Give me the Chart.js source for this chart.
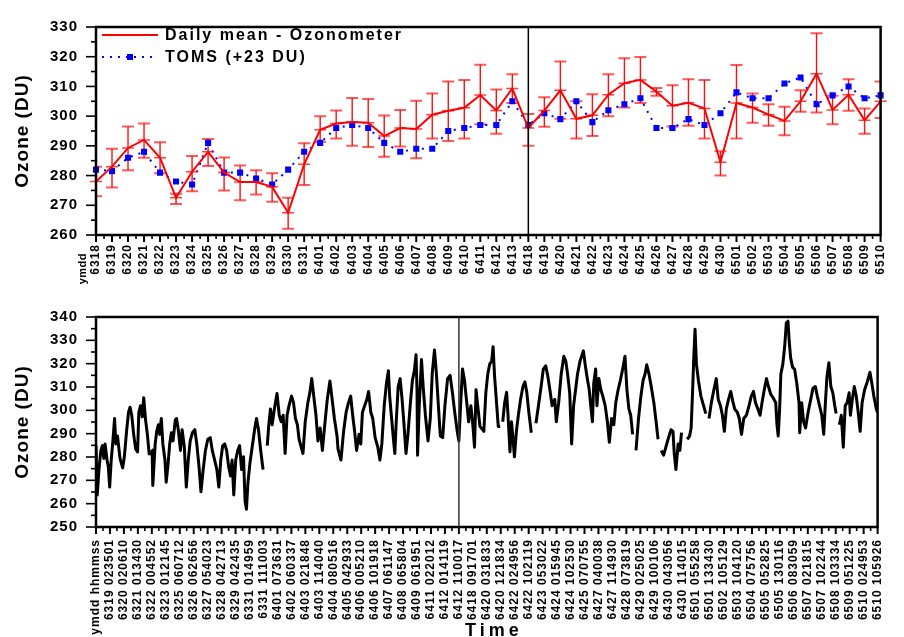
<!DOCTYPE html>
<html>
<head>
<meta charset="utf-8">
<title>Ozone</title>
<script src="https://cdn.jsdelivr.net/npm/chart.js@4.4.1/dist/chart.umd.min.js"></script>
<style>
	html, body { margin: 0; padding: 0; background: #fff; }
	canvas { position: absolute; left: 0; }
	#daily { top: 0; }
	#hourly { top: 290px; }
</style>
</head>
<body>
<canvas id="daily" width="904" height="290"></canvas>
<canvas id="hourly" width="904" height="347"></canvas>
<script>
(function (Chart) {
	'use strict';

	// daily means, top panel
	var days = ['6318', '6319', '6320', '6321', '6322', '6323', '6324', '6325', '6326', '6327', '6328', '6329', '6330', '6331',
		'6401', '6402', '6403', '6404', '6405', '6406', '6407', '6408', '6409', '6410', '6411', '6412', '6413',
		'6418', '6419', '6420', '6421', '6422', '6423', '6424', '6425', '6426', '6427', '6428', '6429', '6430',
		'6501', '6502', '6503', '6504', '6505', '6506', '6507', '6508', '6509', '6510'];
	var dailyMean = [278, 283, 289.3, 292, 286, 272.5, 281.3, 288, 281, 277.8, 277.8, 276.2, 267.5, 283.8,
		295.4, 297.5, 298, 297.8, 293.3, 296, 295.7, 300.5, 301.8, 302.8, 307.1, 301.9, 309.3,
		296, 301.9, 308.7, 299.1, 300.3, 307.2, 311.1, 312.2, 308.2, 303.5, 304.5, 302.6, 284.5,
		304.4, 302.9, 300.5, 298.4, 305, 314.3, 302.1, 307.2, 298.6, 305];
	var dailyHigh = [283, 289, 296.5, 297.5, 291.2, 273.9, 286.6, 292.3, 286.1, 283.4, 281.8, 280.8, 272.5, 290.9,
		300, 301.9, 306.1, 305.8, 300.2, 302.1, 305.2, 307.6, 311.7, 312.2, 317.3, 309, 314.1,
		300.7, 306.4, 318.4, 305, 307.4, 314.1, 319.5, 319.9, 309.5, 310.4, 312.4, 312.2, 288.2,
		317.2, 307.6, 304, 303.2, 308.7, 327.9, 306.9, 312.4, 302.6, 311.7];
	var dailyLow = [273, 276, 281.8, 286, 280.8, 270.4, 274.7, 283.2, 275, 271.7, 273.6, 271.2, 262.1, 276.8,
		291.4, 292.5, 290, 289.6, 286.3, 289.8, 285.8, 292.5, 291.6, 292.5, 297.3, 294.1, 304.4,
		290, 296.4, 299.1, 292.5, 293.3, 300, 302.9, 304.4, 306.9, 296.5, 296.8, 292.5, 280,
		292.5, 297.8, 296.8, 293.6, 301.5, 301.2, 297.3, 301.8, 294.1, 299.4];
	var toms = [282, 281.5, 286, 288, 281, 278, 277, 291, 281, 281, 279, 277, 282, 288,
		291, 296, 297, 296, 291, 288, 289, 289, 295, 296, 297, 297, 305,
		297, 301, 299, 305, 298, 302, 304, 306, 296, 296, 299, 297, 301,
		308, 306, 306, 311, 313, 304, 307, 310, 306, 307];
	var splitDay = '6418';

	// individual measurements, bottom panel
	var timeLabels = ['ymdd hhmmss', '6319 023501', '6320 020610', '6321 013430', '6322 004552', '6323 012145',
		'6325 060712', '6326 062656', '6327 054023', '6328 042713', '6329 042435', '6331 014959', '6331 111003',
		'6401 073631', '6402 060337', '6403 021848', '6403 114040', '6404 080516', '6405 042933', '6406 005210',
		'6406 101918', '6407 061147', '6408 065804', '6409 061951', '6411 022012', '6412 014119', '6412 110017',
		'6418 091701', '6420 031833', '6420 121834', '6422 024956', '6422 102119', '6423 053022', '6424 015945',
		'6424 102530', '6425 070755', '6427 040038', '6427 114930', '6428 073819', '6429 025025', '6429 100106',
		'6430 043056', '6430 114015', '6501 055258', '6501 133430', '6502 105129', '6503 104120', '6504 075756',
		'6505 052825', '6505 130116', '6506 083059', '6507 021815', '6507 102244', '6508 103334', '6509 051225',
		'6510 024953', '6510 105926'];
	// [position on the time axis, ozone DU]; null marks a break in the record
	var hourlyOzone = [
		[0, 285], [0.09, 263.7], [0.21, 274.6], [0.35, 282.8], [0.46, 284.9], [0.56, 279.4], [0.65, 285.6], [0.79, 278.7],
		[0.88, 276], [0.98, 267.1], [1.09, 278.7], [1.21, 286.9], [1.33, 296.5], [1.42, 285.6], [1.54, 289], [1.72, 279.4],
		[1.91, 275.3], [2.03, 280.1], [2.19, 291], [2.33, 299.2], [2.44, 301.3], [2.56, 297.9], [2.7, 289.7], [2.84, 283.5],
		[2.98, 282.2], [3.07, 299.2], [3.19, 302], [3.31, 297.2], [3.42, 305.4], [3.54, 296.5], [3.68, 289.7], [3.82, 280.8],
		[3.92, null],
		[4.02, 283], [4.07, 267.8], [4.24, 285.6], [4.35, 291], [4.47, 293.8], [4.56, 289.7], [4.68, 296.5], [4.79, 285.6],
		[4.94, 278.7], [5.03, 269.2], [5.17, 277.4], [5.28, 285.6], [5.4, 290.4], [5.52, 286.9], [5.68, 295.8], [5.77, 296.5],
		[5.91, 291], [6.05, 282.8], [6.17, 291.7], [6.33, 284.2], [6.47, 267.1], [6.61, 278.7], [6.75, 286.9], [6.91, 290.4],
		[7.08, 291.7], [7.22, 285.6], [7.38, 276], [7.52, 265.1], [7.68, 274.6], [7.84, 282.8], [8.01, 287.6], [8.19, 288.3],
		[8.33, 282.8], [8.5, 278.7], [8.66, 274.6], [8.8, 267.1], [8.94, 278.7], [9.08, 284.9], [9.22, 285.6], [9.36, 282.8],
		[9.5, 276], [9.64, 271.9], [9.75, 278.7], [9.87, 263.7], [10.01, 278.7], [10.15, 282.8], [10.29, 284.9], [10.43, 274.6],
		[10.57, 280.1], [10.68, 261], [10.78, 257.6], [10.89, 269.2], [11.03, 277.4], [11.22, 285.6], [11.38, 292.4], [11.5, 296.5],
		[11.64, 291.7], [11.8, 282.8], [11.97, 274.6],
		[12.1, null],
		[12.27, 284.9], [12.38, 293.8], [12.5, 300.6], [12.62, 293.8], [12.78, 300.6], [12.97, 307.2], [13.13, 297.9], [13.27, 295.1],
		[13.41, 297.9], [13.55, 281.5], [13.69, 297.9], [13.83, 302], [14.01, 306.1], [14.15, 303.3], [14.29, 296.5], [14.43, 293.8],
		[14.55, 287.6], [14.83, 281.5], [14.99, 295.1], [15.18, 303.3], [15.32, 307.5], [15.46, 313.6], [15.6, 306.1], [15.76, 297.9],
		[15.9, 286.9], [16.06, 292.4], [16.22, 282.8], [16.39, 293.8], [16.57, 304.7], [16.76, 312.6], [16.92, 304.7], [17.08, 296.5],
		[17.27, 289], [17.34, 283.5], [17.55, 278.7], [17.74, 291], [17.92, 299.2], [18.09, 303.3], [18.25, 306.1], [18.39, 297.9],
		[18.53, 291], [18.67, 282.8], [18.85, 289.7], [18.97, 285.6], [19.09, 299.2], [19.25, 302], [19.41, 304.7], [19.53, 308.1],
		[19.69, 299.2], [19.83, 296.5], [20, 288.3], [20.2, 284], [20.34, 278.7], [20.48, 285.6], [20.65, 302], [20.81, 311.6],
		[20.95, 317], [21.04, 306.1], [21.18, 296.5], [21.3, 288.3], [21.41, 281.5], [21.51, 295.1], [21.65, 310.2], [21.79, 313.6],
		[21.93, 304.7], [22.07, 293.8], [22.21, 281.5], [22.35, 289.7], [22.51, 302], [22.67, 312.9], [22.81, 317], [22.93, 323.8],
		[23, 308.8], [23.04, 280.8], [23.16, 302], [23.32, 321.8], [23.44, 310.2], [23.6, 297.9], [23.79, 286.9], [23.95, 296.5],
		[24.09, 315.7], [24.25, 325.9], [24.39, 315.7], [24.53, 302], [24.67, 289], [24.84, 288.3], [25, 302], [25.19, 313.6],
		[25.37, 315], [25.54, 307.5], [25.7, 299.2], [25.88, 291], [26, 286.9], [26.12, 302], [26.26, 317.7], [26.4, 312.9],
		[26.54, 304.7], [26.7, 295.1], [26.86, 302], [27, 293.8], [27.12, 284.2], [27.23, 308.8], [27.4, 299.2], [27.51, 293.1],
		[27.79, 291], [27.93, 307.5], [28.07, 315.6], [28.21, 319.8], [28.35, 321.1], [28.45, 327.3], [28.56, 314.3], [28.68, 304.7],
		[28.82, 293.1], [28.96, 293.1],
		[29.05, null],
		[29.14, 295.1], [29.28, 303.3], [29.42, 307.7], [29.52, 297.9], [29.66, 282.2], [29.77, 295.1], [29.87, 288.3], [29.98, 280.1],
		[30.12, 291], [30.26, 297.9], [30.42, 304.7], [30.59, 310.2], [30.73, 312.2], [30.87, 307.5], [31.01, 299.2], [31.19, 290.4],
		[31.35, null],
		[31.52, 294.5], [31.7, 302], [31.89, 310.2], [32.05, 317.7], [32.22, 319.1], [32.36, 315], [32.52, 308.8], [32.68, 302],
		[32.87, 304.7], [32.98, 295.1], [33.15, 303.3], [33.33, 315.6], [33.52, 323.2], [33.66, 321.1], [33.8, 315], [33.94, 307.5],
		[34.08, 285.6], [34.22, 302], [34.36, 308.8], [34.5, 315.6], [34.68, 321.1], [34.92, 325.5], [35.06, 319.1], [35.2, 313.6],
		[35.34, 308.8], [35.47, 300.6], [35.57, 295.1], [35.66, 311.5], [35.8, 317.7], [35.89, 302], [36.03, 313.6], [36.17, 308.8],
		[36.31, 306.1], [36.48, 302], [36.64, 295.1], [36.78, 286.3], [36.94, 296.5], [37.1, 293.8], [37.24, 303.3], [37.41, 308.8],
		[37.57, 312.9], [37.76, 318.4], [37.9, 323.2], [38.04, 308.8], [38.18, 300.6], [38.31, 297.9], [38.45, 289.7],
		[38.57, null],
		[38.69, 282.8], [38.87, 296.5], [39.04, 306.1], [39.2, 312.9], [39.34, 315.6], [39.46, 319.5], [39.62, 315.6], [39.78, 310.2],
		[39.97, 303.3], [40.13, 295.1], [40.27, 287.6],
		[40.4, null],
		[40.5, 282.8], [40.67, 280.8], [40.83, 284.2], [41.02, 288.3], [41.2, 291.7], [41.34, 291], [41.43, 281.5], [41.55, 274.6],
		[41.71, 285.6], [41.83, 282.8], [41.95, 290.4],
		[42.1, null],
		[42.36, 287.6], [42.53, 289], [42.64, 292.4], [42.74, 307.5], [42.83, 322.5], [42.92, 334.8], [43.02, 319.8], [43.16, 312.9],
		[43.34, 306.1], [43.53, 302], [43.69, 298.6],
		[43.8, null],
		[43.92, 296.5], [44.09, 303.3], [44.27, 308.8], [44.44, 313.6], [44.58, 304.7], [44.74, 302], [44.88, 297.9], [45.02, 291],
		[45.16, 300.6], [45.32, 304.7], [45.48, 308.1], [45.62, 304], [45.76, 300.6], [45.95, 299.2], [46.09, 296.5], [46.25, 289.7],
		[46.41, 296.5], [46.6, 297.9], [46.79, 302], [46.95, 306.1], [47.11, 308.1], [47.25, 303.3], [47.42, 300.6], [47.58, 297.9],
		[47.72, 303.3], [47.88, 308.8], [48.04, 313.6], [48.18, 310.2], [48.35, 306.8], [48.51, 305.4], [48.7, 303.3], [48.79, 293.8],
		[48.88, 289], [48.98, 300.6], [49.07, 315.6], [49.21, 319.8], [49.35, 327.9], [49.46, 337.5], [49.58, 338.2], [49.67, 329.3],
		[49.77, 322.5], [49.91, 318.4], [50.05, 317.7], [50.21, 311.5], [50.37, 303.3], [50.42, 290.4], [50.56, 303.3], [50.7, 295.1],
		[50.84, 292.4], [51.02, 299.2], [51.21, 304.7], [51.37, 309.5], [51.54, 310.2], [51.68, 306.1], [51.84, 302], [52, 297.9],
		[52.14, 289.7], [52.26, 303.3], [52.37, 314.3], [52.51, 320.4], [52.65, 310.2], [52.79, 307.5], [52.93, 302], [53.03, 298.6],
		[53.15, null],
		[53.26, 293.8], [53.4, 297.9], [53.54, 284.2], [53.68, 302], [53.82, 303.3], [53.96, 307.5], [54.05, 297.9], [54.19, 304.7],
		[54.33, 310.2], [54.47, 306.1], [54.61, 299.2], [54.75, 291], [54.89, 303.3], [55.07, 308.8], [55.26, 312.2], [55.45, 316.3],
		[55.59, 311.5], [55.73, 306.1], [55.91, 300.6], [56, 299]
	];
	var splitTime = '6412 110017';

	var FONT = '"Liberation Sans", Arial, Helvetica, sans-serif';

	function line(ctx, x1, y1, x2, y2) {
		ctx.beginPath();
		ctx.moveTo(x1, y1);
		ctx.lineTo(x2, y2);
		ctx.stroke();
	}

	// box, tick marks (major + minor) and the vertical split marker
	var frame = {
		id: 'frame',
		beforeDraw: function (chart) {
			chart.ctx.letterSpacing = '1px';
		},
		afterDraw: function (chart, args, opts) {
			var ctx = chart.ctx,
				a = chart.chartArea,
				x = chart.scales.x,
				y = chart.scales.y,
				p, v, i;

			ctx.save();
			ctx.letterSpacing = '0px';
			ctx.strokeStyle = opts.splitColor;
			ctx.lineWidth = 1.5;
			p = x.getPixelForValue(opts.split);
			line(ctx, p, a.top, p, a.bottom);

			ctx.strokeStyle = '#000';
			for (v = y.min; v <= y.max; v += 5) {
				p = y.getPixelForValue(v);
				ctx.lineWidth = 1.6;
				line(ctx, a.left, p, a.left - (v % 10 === 0 ? 10 : 5), p);
			}
			for (i = 0; i <= opts.xMax; i += 0.5) {
				p = x.getPixelForValue(i);
				ctx.lineWidth = i % 1 === 0 ? 2 : 1.6;
				line(ctx, p, a.bottom, p, a.bottom + (i % 1 === 0 ? 7 : 4));
			}
			ctx.lineWidth = 2.5;
			ctx.strokeRect(a.left, a.top, a.right - a.left, a.bottom - a.top);
			ctx.restore();
		}
	};

	var errorBars = {
		id: 'errorBars',
		beforeDatasetsDraw: function (chart) {
			var ctx = chart.ctx,
				a = chart.chartArea,
				x = chart.scales.x,
				y = chart.scales.y;

			ctx.save();
			ctx.beginPath();
			ctx.rect(a.left, a.top, a.right - a.left, a.bottom - a.top);
			ctx.clip();
			dailyHigh.forEach(function (hi, i) {
				var px = x.getPixelForValue(i),
					top = y.getPixelForValue(hi),
					bot = y.getPixelForValue(dailyLow[i]);
				ctx.strokeStyle = '#ff1010';
				ctx.lineWidth = 1.4;
				line(ctx, px, top, px, bot);
				ctx.strokeStyle = 'rgba(255, 0, 0, 0.65)';
				ctx.lineWidth = 2;
				line(ctx, px - 6, top, px + 6, top);
				line(ctx, px - 6, bot, px + 6, bot);
			});
			ctx.restore();
		}
	};

	var dailyLegend = {
		id: 'dailyLegend',
		afterDraw: function (chart) {
			var ctx = chart.ctx,
				x = chart.scales.x,
				a = chart.chartArea;

			ctx.save();
			ctx.fillStyle = '#000';
			ctx.textBaseline = 'middle';
			ctx.font = 'bold 16px ' + FONT;
			ctx.letterSpacing = '2px';
			chart.data.datasets.forEach(function (ds, i) {
				var yy = 35 + i * 22;
				ctx.strokeStyle = ds.borderColor;
				ctx.lineWidth = ds.borderWidth;
				ctx.setLineDash(ds.borderDash || []);
				line(ctx, 102, yy, 158, yy);
				ctx.setLineDash([]);
				if (ds.pointStyle === 'rect') {
					ctx.fillStyle = ds.pointBackgroundColor;
					ctx.fillRect(127, yy - 3, 6, 6);
					ctx.fillStyle = '#000';
				}
				ctx.fillText(ds.label, 165, yy + 1);
			});

			// unit note left of the first date label
			ctx.font = 'bold 11px ' + FONT;
			ctx.letterSpacing = '0.5px';
			ctx.translate(x.getPixelForValue(0) - 13, a.bottom + 18);
			ctx.rotate(-Math.PI / 2);
			ctx.textAlign = 'right';
			ctx.fillText('ymdd', 0, 0);
			ctx.restore();
		}
	};

	var timeTitle = {
		id: 'timeTitle',
		afterDraw: function (chart) {
			var ctx = chart.ctx,
				a = chart.chartArea;
			ctx.save();
			ctx.fillStyle = '#000';
			ctx.font = 'bold 18px ' + FONT;
			ctx.letterSpacing = '4px';
			ctx.textAlign = 'center';
			ctx.textBaseline = 'middle';
			ctx.fillText('Time', (a.left + a.right) / 2 + 7, 341);
			ctx.restore();
		}
	};

	function yAxis(min, max) {
		return {
			min: min,
			max: max,
			grid: { display: false, drawTicks: false },
			border: { display: false },
			ticks: {
				stepSize: 10,
				padding: 18,
				color: '#000',
				font: { family: FONT, size: 15, weight: 'bold' }
			},
			title: {
				display: true,
				text: 'Ozone (DU)',
				color: '#000',
				padding: { top: 11, bottom: 0 },
				font: { family: FONT, size: 19, weight: 'bold' }
			},
			afterFit: function (scale) { scale.width = 96; }
		};
	}

	function xTicks(padding) {
		return {
			autoSkip: false,
			minRotation: 90,
			maxRotation: 90,
			padding: padding,
			color: '#000',
			font: { family: FONT, size: 12, weight: 'bold' }
		};
	}

	Chart.defaults.animation = false;

	new Chart(document.getElementById('daily'), {
		type: 'line',
		data: {
			labels: days,
			datasets: [{
				label: 'Daily mean - Ozonometer',
				data: dailyMean,
				borderColor: '#ff0000',
				borderWidth: 2,
				pointStyle: 'line',
				pointRadius: 6,
				pointBorderWidth: 1.5,
				pointBorderColor: 'rgba(255, 0, 0, 0.75)',
				tension: 0
			}, {
				label: 'TOMS (+23 DU)',
				data: toms,
				borderColor: '#0000ff',
				borderWidth: 2,
				borderDash: [2, 6],
				pointStyle: 'rect',
				pointRadius: 4.3,
				pointBorderWidth: 0,
				pointBackgroundColor: '#0000ff',
				tension: 0
			}]
		},
		options: {
			responsive: false,
			layout: { padding: { top: 16, right: 6, left: 0, bottom: 0 } },
			plugins: {
				legend: { display: false },
				tooltip: { enabled: false },
				frame: { split: days.indexOf(splitDay), xMax: days.length - 1, splitColor: '#000' }
			},
			scales: {
				x: {
					offset: false,
					grid: { display: false, drawTicks: false },
					border: { display: false },
					ticks: xTicks(9),
					afterFit: function (scale) { scale.height = 55; }
				},
				y: yAxis(260, 330)
			}
		},
		plugins: [errorBars, frame, dailyLegend]
	});

	new Chart(document.getElementById('hourly'), {
		type: 'line',
		data: {
			datasets: [{
				label: 'Ozone',
				data: hourlyOzone.map(function (d) { return { x: d[0], y: d[1] }; }),
				borderColor: '#000',
				borderWidth: 3,
				borderJoinStyle: 'round',
				pointRadius: 0,
				spanGaps: false,
				tension: 0
			}]
		},
		options: {
			responsive: false,
			layout: { padding: { top: 17, right: 6, left: 0, bottom: 0 } },
			plugins: {
				legend: { display: false },
				tooltip: { enabled: false },
				frame: { split: timeLabels.indexOf(splitTime), xMax: timeLabels.length - 1, splitColor: '#333' }
			},
			scales: {
				x: {
					type: 'linear',
					min: 0,
					max: timeLabels.length - 1,
					grid: { display: false, drawTicks: false },
					border: { display: false },
					ticks: Object.assign(xTicks(12), {
						stepSize: 1,
						maxTicksLimit: 100,
						callback: function (v) { return timeLabels[v]; }
					}),
					afterFit: function (scale) { scale.height = 110; }
				},
				y: yAxis(250, 340)
			}
		},
		plugins: [frame, timeTitle]
	});
}(this.Chart));
</script>
</body>
</html>
